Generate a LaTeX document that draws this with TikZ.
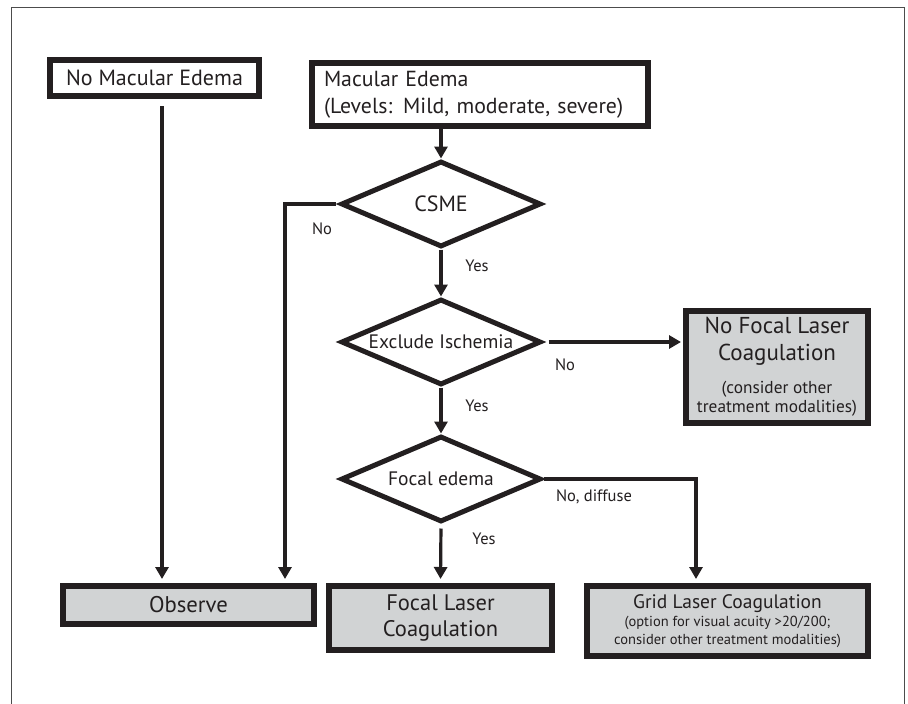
\documentclass[tikz,border=0pt]{standalone}
\usepackage{fontspec}
\setmainfont{PT Sans}
\usetikzlibrary{shapes.geometric,arrows.meta}
\newcommand{\myfs}[2]{\fontsize{#1}{#2}\selectfont}
\definecolor{boxgray}{HTML}{D1D3D4}
\definecolor{ink}{HTML}{231F20}
\begin{document}
\begin{tikzpicture}[x=1pt,y=-1pt,
  box/.style={draw=ink, line width=6pt, inner sep=0pt, align=center, text=ink},
  graybox/.style={box, fill=boxgray},
  dec/.style={draw=ink, diamond, line width=5pt, inner sep=0pt, minimum width=200pt, minimum height=86pt, aspect=2.35, text=ink},
  conn/.style={draw=ink, line width=3.2pt},
  arr/.style={conn, -{Triangle[length=12pt,width=13pt]}},
  lab/.style={inner sep=0pt, text=ink, font=\myfs{16.5}{18}},
]
\useasboundingbox (0,0) rectangle (908,704);
\draw[black!70, line width=1pt] (11,704) -- (11,7) -- (904,7) -- (904,704);

% boxes
\node[box, minimum width=209pt, minimum height=36pt, font=\myfs{22}{25}] (noME) at (154.5,78) {No Macular Edema};
\node[box, minimum width=336pt, minimum height=63pt, text width=312pt, align=left, font=\myfs{21.8}{27}] (ME) at (480,94.5) {Macular Edema\\(Levels: Mild, moderate, severe)};

\node[dec, font=\myfs{22}{26}] (csme) at (441,204) {CSME};
\node[dec, font=\myfs{19.5}{23}] (excl) at (441,342) {Exclude Ischemia};
\node[dec, font=\myfs{19.5}{23}] (focal) at (441,479) {Focal edema};

\node[graybox, minimum width=182pt, minimum height=112pt, font=\myfs{23}{27}] (nofocal) at (777,367)
  {No Focal Laser\\Coagulation\\[6pt]\myfs{17.3}{19}(consider other\\[-8pt]\myfs{17.3}{19}treatment modalities)};

\node[graybox, minimum width=251pt, minimum height=38pt, font=\myfs{22.7}{25}] (observe) at (188.5,605) {Observe};
\node[graybox, minimum width=223pt, minimum height=64pt, font=\myfs{22.5}{26}] (focalbox) at (440.5,618) {Focal Laser\\Coagulation};
\node[graybox, minimum width=281pt, minimum height=70pt, font=\myfs{14.5}{18}] (grid) at (727.5,621)
  {\myfs{19.5}{18}Grid Laser Coagulation\\\myfs{14.5}{18}(option for visual acuity >20/200;\\\myfs{14.5}{18}consider other treatment modalities)};

% helper coordinates
\coordinate (noMEx) at (162,0);
\coordinate (csmeNo) at (285,204);
\coordinate (diffX) at (696,0);

% connectors
\draw[arr, shorten <=7pt, shorten >=4pt] (noME.south -| noMEx) -- (noMEx |- observe.north);
\draw[arr] (ME.south -| csme.north) -- (csme.north);
\draw[arr] (csme.south) -- (excl.north);
\draw[arr] (excl.south) -- (focal.north);
\draw[arr, shorten <=4pt, shorten >=4pt] (focal.south) -- (focalbox.north);
\draw[arr, shorten <=5pt, shorten >=2pt] (excl.east) -- (excl.east -| nofocal.west);
\draw[arr, shorten <=3pt, shorten >=4pt] (csme.west) -- (csmeNo) -- (csmeNo |- observe.north);
\draw[arr, shorten >=4pt] (focal.east) -- (focal.east -| diffX) -- (diffX |- grid.north);

% labels
\node[lab] (lNo1) at (322,229) {No};
\node[lab] (lYes1) at (477,266) {Yes};
\node[lab] (lNo2) at (565,365) {No};
\node[lab] (lYes2) at (477,406) {Yes};
\node[lab] (lNoDiff) at (594,497) {No, diffuse};
\node[lab] (lYes3) at (484,539) {Yes};
\end{tikzpicture}
\end{document}
